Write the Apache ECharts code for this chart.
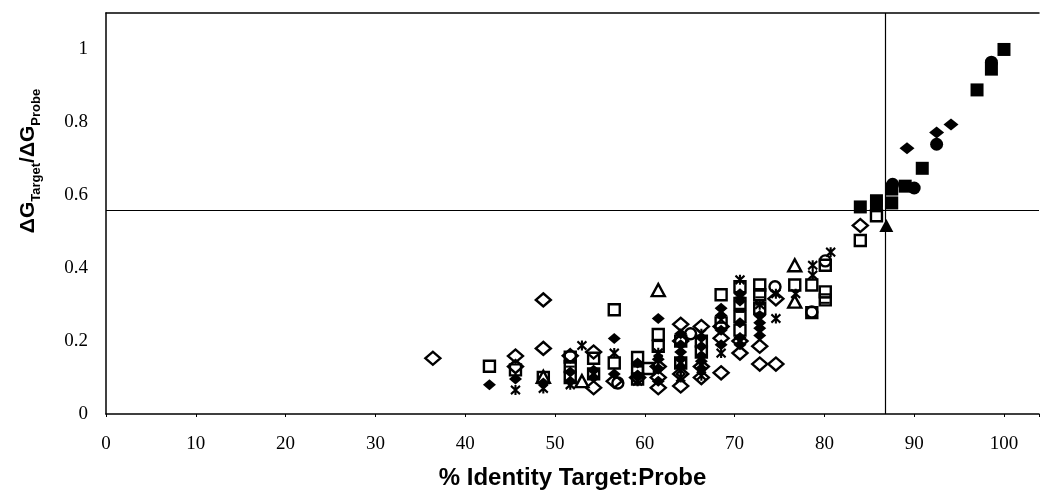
<!DOCTYPE html>
<html>
<head>
<meta charset="utf-8">
<script src="https://cdn.jsdelivr.net/npm/echarts@6/dist/echarts.min.js"></script>
<style>
html,body{margin:0;padding:0;background:#fff;overflow:hidden;}
#chart{width:1042px;height:495px;}
</style>
</head>
<body>
<div id="chart"></div>
<script>
// ---- data ----
const openDiamond = [[36.4,0.153],[45.6,0.159],[45.6,0.13],[48.7,0.313],[48.7,0.18],[51.7,0.16],[54.3,0.17],[54.3,0.072],[56.6,0.09],[59.2,0.1],[61.5,0.072],[61.5,0.13],[61.5,0.1],[64.0,0.246],[64.0,0.2],[64.0,0.11],[64.0,0.077],[66.3,0.24],[66.3,0.13],[66.3,0.1],[68.5,0.24],[68.5,0.208],[68.5,0.113],[70.6,0.2],[70.6,0.167],[72.8,0.186],[72.8,0.137],[74.6,0.316],[74.6,0.137],[84.0,0.517]];
const openSquare = [[42.7,0.131],[45.6,0.121],[48.7,0.10],[51.7,0.156],[51.7,0.13],[51.7,0.10],[54.3,0.153],[54.3,0.11],[56.6,0.286],[56.6,0.14],[59.2,0.155],[59.2,0.12],[59.2,0.096],[60.4,0.125],[61.5,0.218],[61.5,0.186],[64.0,0.20],[64.0,0.14],[66.3,0.20],[66.3,0.17],[68.5,0.327],[68.5,0.25],[70.6,0.349],[70.6,0.303],[70.6,0.267],[70.6,0.23],[72.8,0.354],[72.8,0.327],[72.8,0.29],[76.7,0.354],[78.6,0.354],[78.6,0.278],[80.1,0.408],[80.1,0.335],[80.1,0.313],[84.0,0.476],[85.8,0.544]];
const openTriangle = [[48.7,0.102],[53.0,0.09],[61.5,0.34],[76.7,0.408],[76.7,0.308]];
const asterisk = [[45.6,0.066],[48.7,0.07],[51.7,0.08],[53.0,0.188],[56.6,0.167],[59.2,0.09],[61.5,0.168],[64.0,0.12],[64.0,0.1],[66.3,0.105],[66.3,0.22],[68.5,0.167],[68.5,0.28],[70.6,0.368],[70.6,0.2],[72.8,0.3],[72.8,0.26],[74.6,0.262],[74.6,0.33],[76.8,0.33],[78.7,0.408],[78.7,0.381],[80.7,0.444]];
const openCircle = [[57.0,0.085],[65.1,0.22],[74.5,0.349],[78.6,0.28],[80.1,0.42]];
const filledBlob = [[42.7,0.08],[45.6,0.096],[48.7,0.085],[51.7,0.09],[51.7,0.115],[54.3,0.12],[54.3,0.1],[56.6,0.207],[56.6,0.11],[59.2,0.105],[59.2,0.14],[61.5,0.262],[61.5,0.15],[61.5,0.125],[61.5,0.09],[64.0,0.22],[64.0,0.19],[64.0,0.17],[64.0,0.15],[64.0,0.13],[66.3,0.21],[66.3,0.185],[66.3,0.16],[66.3,0.145],[66.3,0.125],[68.5,0.29],[68.5,0.27],[68.5,0.23],[68.5,0.19],[70.6,0.33],[70.6,0.31],[70.6,0.25],[70.6,0.21],[70.6,0.19],[72.8,0.27],[72.8,0.25],[72.8,0.235],[72.8,0.215]];
const dashMark = [[51.7,0.13],[59.2,0.13],[59.2,0.11],[61.5,0.2],[61.5,0.16],[68.5,0.25],[70.6,0.28],[70.6,0.32],[72.8,0.30],[72.8,0.32],[80.1,0.32],[80.1,0.305]];
const filledSquare = [[84.0,0.568],[85.8,0.585],[85.8,0.571],[87.5,0.579],[87.5,0.617],[89.0,0.625],[90.9,0.674],[97.0,0.889],[98.6,0.946],[100.0,1.0]];
const filledCircle = [[87.6,0.63],[90.0,0.62],[92.5,0.74],[98.6,0.965]];
const filledDiamond = [[89.2,0.729],[92.5,0.772],[94.1,0.794]];
const filledTriangle = [[86.9,0.517]];
const refLineY = 0.565;
const refLineX = 86.8;
const xMin = 0, xMax = 103.9, xStep = 10;
const yMin = 0, yMax = 1.1, yStep = 0.2;

const chart = echarts.init(document.getElementById('chart'), null, {renderer:'canvas'});
const openStyle = {color:'rgba(255,255,255,0)', borderColor:'#000', borderWidth:2.4, opacity:1};
const fillStyle = {color:'#000', borderColor:'#000', borderWidth:0, opacity:1};
const asteriskPath = 'path://M0,1L10,11M10,1L0,11M5,0L5,12';
function sc(name, data, symbol, size, style){
  return {name, type:'scatter', data, symbol, symbolSize:size, itemStyle:style, silent:true, animation:false, emphasis:{disabled:true}};
}
const option = {
  backgroundColor:'#fff',
  animation:false,
  grid:{left:106, right:0, top:13, bottom:76, containLabel:false},
  xAxis:[{
    type:'value', min:xMin, max:xMax, interval:xStep,
    name:'% Identity Target:Probe', nameLocation:'middle', nameGap:52,
    nameTextStyle:{fontFamily:'Liberation Sans', fontWeight:'bold', fontSize:24, color:'#000'},
    axisLine:{show:true, onZero:false, lineStyle:{color:'#000', width:1.5}},
    axisTick:{show:true, length:3, lineStyle:{color:'#000'}},
    splitLine:{show:false},
    axisLabel:{margin:21, fontFamily:'Liberation Serif', fontSize:19, color:'#000',
      formatter:v => (Math.abs(v % 10) < 1e-6 && v <= 100) ? String(v) : ''}
  },{
    type:'value', position:'top', min:xMin, max:xMax,
    axisLine:{show:true, onZero:false, lineStyle:{color:'#000', width:1.5}},
    axisTick:{show:false}, axisLabel:{show:false}, splitLine:{show:false}
  }],
  yAxis:{
    type:'value', min:yMin, max:yMax, interval:yStep,
    axisLine:{show:true, onZero:false, lineStyle:{color:'#000', width:1.5}},
    axisTick:{show:false}, splitLine:{show:false},
    axisLabel:{margin:18, fontFamily:'Liberation Serif', fontSize:19, color:'#000',
      formatter:v => v > 1.05 ? '' : String(+v.toFixed(1))}
  },
  graphic:[{
    type:'text', x:28, y:161, rotation:Math.PI/2, silent:true,
    style:{
      text:'{a|ΔG}{s|Target}{a|/ΔG}{s|Probe}',
      align:'center', verticalAlign:'middle', fill:'#000',
      rich:{
        a:{fontFamily:'Liberation Sans', fontWeight:'bold', fontSize:21, lineHeight:21, verticalAlign:'top', fill:'#000'},
        s:{fontFamily:'Liberation Sans', fontWeight:'bold', fontSize:13, lineHeight:13, padding:[12,0,0,0], verticalAlign:'top', fill:'#000'}
      }
    }
  }],
  series:[
    Object.assign(sc('ref', [], 'none', 0, fillStyle), {
      markLine:{silent:true, symbol:['none','none'], animation:false, label:{show:false},
        lineStyle:{color:'#000', width:1.2, type:'solid', opacity:1},
        data:[{yAxis:refLineY},{xAxis:refLineX}]}
    }),
    sc('Open diamond', openDiamond, 'diamond', [15,13], openStyle),
    sc('Open square', openSquare, 'rect', [11,11], openStyle),
    sc('Open triangle', openTriangle, 'triangle', [13,12], openStyle),
    sc('Asterisk', asterisk, asteriskPath, [9,10], {color:'#000', borderColor:'#000', borderWidth:2.2, opacity:1}),
    sc('Open circle', openCircle, 'circle', 11, openStyle),
    sc('Filled blob', filledBlob, 'diamond', [13,11], fillStyle),
    sc('Dash', dashMark, 'rect', [9,2], fillStyle),
    sc('Filled square', filledSquare, 'rect', [13,13], fillStyle),
    sc('Filled circle', filledCircle, 'circle', 13, fillStyle),
    sc('Filled diamond', filledDiamond, 'diamond', [15,12], fillStyle),
    sc('Filled triangle', filledTriangle, 'triangle', [14,13], fillStyle)
  ]
};
chart.setOption(option);
</script>
</body>
</html>
